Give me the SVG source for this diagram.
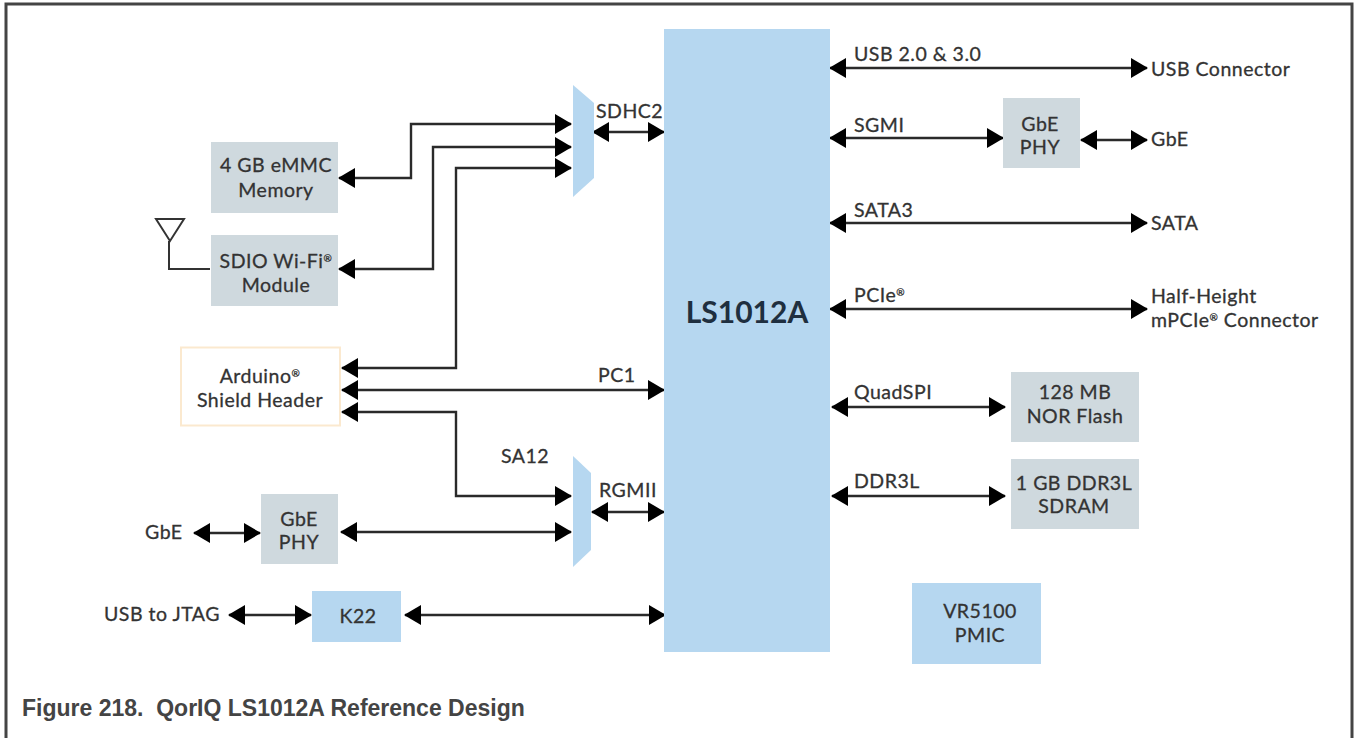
<svg xmlns="http://www.w3.org/2000/svg" width="1354" height="738" viewBox="0 0 1354 738">
<style>
text{font-family:"Lato","Open Sans","Liberation Sans",sans-serif;font-size:19.500px;letter-spacing:.5px;fill:#333;stroke:#333;stroke-width:.3px}
.c{text-anchor:middle}
.cap{font-family:"Liberation Sans",Arial,sans-serif;font-weight:bold;font-size:23px;letter-spacing:0;fill:#444;stroke:none}
.main{font-size:30px;font-weight:bold;letter-spacing:0;fill:#1f2f3f;stroke:none}
.r{font-size:10px;baseline-shift:6px}
.grey{fill:#cfd9de}
.blue{fill:#b6d7f0}
.w{fill:none;stroke:#2a2a2a;stroke-width:2.4}
.a{marker-start:url(#h);marker-end:url(#h)}
.thin{fill:none;stroke:#333;stroke-width:2}
</style>
<defs>
<marker id="h" markerUnits="userSpaceOnUse" markerWidth="18" markerHeight="22" viewBox="0 0 18 22" refX="16" refY="11" orient="auto-start-reverse">
<path d="M0,1 L17,11 L0,21 Z" fill="#000"/>
</marker>
</defs>
<rect width="1354" height="738" fill="#fff"/>
<path id="frame" d="M6,738 V4 H1352 V738" fill="none" stroke="#444" stroke-width="3"/>

<g id="connectors">
<path class="w a" d="M339,178 H411 V124 H571"/>
<path class="w a" d="M339,269 H433 V147 H571"/>
<path class="w a" d="M342,368 H456 V168 H571"/>
<path class="w a" d="M342,390 H664"/>
<path class="w a" d="M342,412 H456 V496 H571"/>
<path class="w a" d="M593,132 H664"/>
<path class="w a" d="M592,512 H664"/>
<path class="w a" d="M341,532 H571"/>
<path class="w a" d="M194,533 H260"/>
<path class="w a" d="M229,615 H311"/>
<path class="w a" d="M405,615 H665"/>
<path class="w a" d="M830,68 H1147"/>
<path class="w a" d="M830,138 H1003"/>
<path class="w a" d="M1081,140 H1147"/>
<path class="w a" d="M830,223 H1147"/>
<path class="w a" d="M830,309 H1147"/>
<path class="w a" d="M832,407 H1005"/>
<path class="w a" d="M832,496 H1005"/>
<path class="thin" d="M210,269 H169 V241"/>
</g>

<g id="antenna"><path d="M156,219 H184 L170,241 Z" fill="none" stroke="#333" stroke-width="2"/></g>

<g id="ls1012a"><rect class="blue" x="664" y="29" width="166" height="623"/><text class="main c" x="747" y="323">LS1012A</text></g>
<g id="mux-sdhc"><path class="blue" d="M573,85 L594,103 V178 L573,197 Z"/></g>
<g id="mux-rgmii"><path class="blue" d="M573,456 L591,473 V550 L573,567 Z"/></g>

<g id="emmc"><rect class="grey" x="211" y="142" width="127" height="71"/><text class="c" x="276" y="172">4 GB eMMC</text><text class="c" x="276" y="197">Memory</text></g>
<g id="wifi"><rect class="grey" x="211" y="235" width="127" height="71"/><text class="c" x="276" y="268">SDIO Wi-Fi<tspan class="r">®</tspan></text><text class="c" x="276" y="292">Module</text></g>
<g id="arduino"><rect x="181" y="347.500" width="159" height="78" fill="#fff" stroke="#fbe9cf" stroke-width="2"/><text class="c" x="260" y="383">Arduino<tspan class="r">®</tspan></text><text class="c" x="260" y="407">Shield Header</text></g>
<g id="phy-left"><rect class="grey" x="261" y="494" width="77" height="70"/><text class="c" x="299" y="526">GbE</text><text class="c" x="299" y="549">PHY</text></g>
<g id="k22"><rect class="blue" x="312" y="591" width="89" height="51"/><text class="c" x="358" y="623">K22</text></g>
<g id="phy-right"><rect class="grey" x="1003" y="98" width="77" height="70"/><text class="c" x="1040" y="131">GbE</text><text class="c" x="1040" y="154">PHY</text></g>
<g id="nor"><rect class="grey" x="1011" y="372" width="128" height="70"/><text class="c" x="1075" y="399">128 MB</text><text class="c" x="1075" y="423">NOR Flash</text></g>
<g id="ddr"><rect class="grey" x="1011" y="459" width="128" height="70"/><text class="c" x="1074" y="490">1 GB DDR3L</text><text class="c" x="1074" y="513">SDRAM</text></g>
<g id="pmic"><rect class="blue" x="912" y="583" width="129" height="81"/><text class="c" x="980" y="618">VR5100</text><text class="c" x="980" y="642">PMIC</text></g>

<g id="labels">
<text x="596" y="118">SDHC2</text>
<text x="598" y="382">PC1</text>
<text x="501" y="463">SA12</text>
<text x="599" y="497">RGMII</text>
<text x="145" y="539">GbE</text>
<text x="104" y="621">USB to JTAG</text>
<text x="854" y="61">USB 2.0 &amp; 3.0</text>
<text x="1151" y="76">USB Connector</text>
<text x="854" y="132">SGMI</text>
<text x="1151" y="146">GbE</text>
<text x="854" y="217">SATA3</text>
<text x="1151" y="230">SATA</text>
<text x="854" y="302">PCIe<tspan class="r">®</tspan></text>
<text x="1151" y="303">Half-Height</text>
<text x="1151" y="327">mPCIe<tspan class="r">®</tspan> Connector</text>
<text x="854" y="399">QuadSPI</text>
<text x="854" y="488">DDR3L</text>
</g>
<text class="cap" x="22" y="716" xml:space="preserve">Figure 218.  QorIQ LS1012A Reference Design</text>
</svg>
